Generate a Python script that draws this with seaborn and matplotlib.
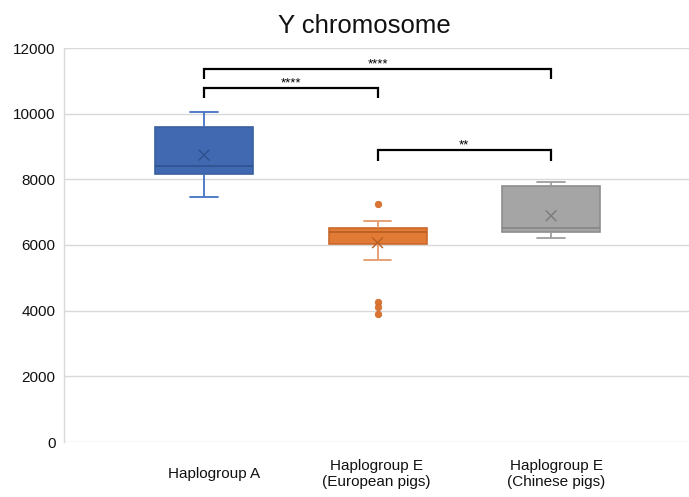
import numpy as np
import pandas as pd
import matplotlib
matplotlib.use("Agg")
import matplotlib.pyplot as plt
import matplotlib.transforms as mtransforms
import seaborn as sns

# ---------------- data ----------------
categories = ["Haplogroup A", "Haplogroup E\n(European pigs)", "Haplogroup E\n(Chinese pigs)"]
whisker_low = [7470, 5545, 6215]
q1 = [8160, 6030, 6400]
median = [8420, 6410, 6510]
q3 = [9600, 6510, 7810]
whisker_high = [10050, 6730, 7920]
means = [8740, 6070, 6890]
outlier_group = [1, 1, 1, 1]
outlier_values = [7250, 4260, 4120, 3910]
y_ticks = [0, 2000, 4000, 6000, 8000, 10000, 12000]
title = "Y chromosome"
bracket_pairs = [(0, 2), (0, 1), (1, 2)]
bracket_top = [11360, 10775, 8895]
bracket_bottom = [11070, 10480, 8560]
bracket_labels = ["****", "****", "**"]

# ---------------- styles ----------------
fill_colors = ["#4169B2", "#E07A35", "#A5A5A5"]
edge_colors = ["#3A5FA0", "#C9692B", "#8E8E8E"]
whisker_colors = ["#4472C4", "#E39A6A", "#9E9E9E"]
median_colors = ["#2F528F", "#B85E22", "#858585"]
mean_colors = ["#2F4F8A", "#B85E22", "#7A7A7A"]
outlier_color = "#DC7330"
label_shift_px = [10, -1, 5]

sns.set_style("white")
plt.rcParams["font.family"] = ["Liberation Sans", "DejaVu Sans"]
plt.rcParams["text.color"] = "#111111"

rows = []
for g, a, b, c, d, e in zip(categories, whisker_low, q1, median, q3, whisker_high):
    for v in (a, b, c, d, e):
        rows.append({"group": g, "value": v})
df = pd.DataFrame(rows)

fig = plt.figure(figsize=(6.89, 4.97), dpi=100)
ax = fig.add_axes([64 / 689, 55 / 497, 625 / 689, 394 / 497])

for i, g in enumerate(categories):
    sub = df[df["group"] == g]
    sns.boxplot(
        data=sub, x="group", y="value", order=categories,
        color=fill_colors[i], linecolor=edge_colors[i], linewidth=1.2,
        width=0.565, whis=(0, 100), saturation=1, capwidths=0.16,
        whiskerprops=dict(color=whisker_colors[i], linewidth=1.3),
        capprops=dict(color=whisker_colors[i], linewidth=1.3),
        medianprops=dict(color=median_colors[i], linewidth=1.2),
        ax=ax,
    )

positions = list(range(len(categories)))
sns.scatterplot(x=positions, y=means, hue=categories,
                palette=dict(zip(categories, mean_colors)),
                marker="x", s=60, linewidth=1.0, legend=False, ax=ax, zorder=6)
sns.scatterplot(x=outlier_group, y=outlier_values, color=outlier_color,
                s=22, edgecolor="#C9692B", linewidth=0.5, legend=False, ax=ax, zorder=6)

for (a, b), top, bot, lab in zip(bracket_pairs, bracket_top, bracket_bottom, bracket_labels):
    ax.plot([a, a, b, b], [bot, top, top, bot], color="black", lw=1.6,
            solid_joinstyle="miter", solid_capstyle="butt", zorder=7)
    ax.text((a + b) / 2, top + 60, lab, ha="center", va="baseline", fontsize=9.5, color="black")

ax.set_xlim(-0.807, 2.795)
ax.set_ylim(0, 12000)
ax.set_yticks(y_ticks)
ax.set_xlabel("")
ax.set_ylabel("")
ax.grid(axis="y", color="#d9d9d9", linewidth=1.0)
ax.grid(axis="x", visible=False)
ax.set_axisbelow(True)
for s in ("top", "right", "bottom"):
    ax.spines[s].set_visible(False)
ax.spines["left"].set_color("#d9d9d9")
ax.spines["left"].set_linewidth(1.0)

ax.tick_params(axis="y", length=0, pad=6, labelsize=11, labelcolor="#111111")
ax.tick_params(axis="x", length=0, pad=23, labelsize=11, labelcolor="#111111")
for lbl, dx in zip(ax.get_xticklabels(), label_shift_px):
    lbl.set_va("center")
    lbl.set_linespacing(1.25)
    lbl.set_transform(lbl.get_transform() + mtransforms.ScaledTranslation(dx / 100, 0, fig.dpi_scale_trans))

ax.set_title(title, fontsize=18.5, x=(364 - 64) / 625, pad=11)

fig.savefig("out.png", dpi=100)
